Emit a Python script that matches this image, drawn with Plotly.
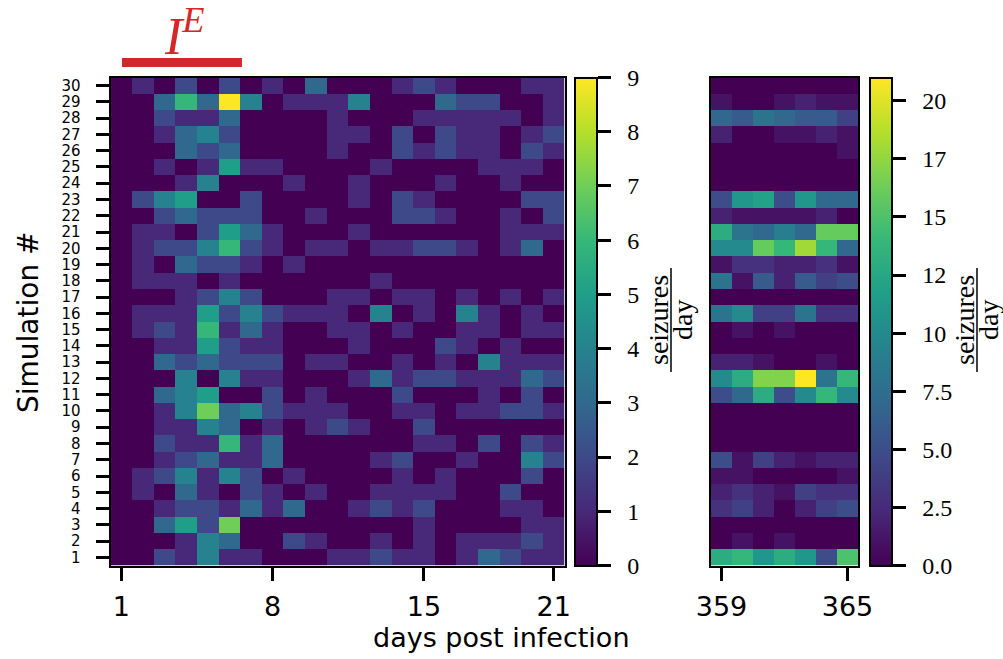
import plotly.graph_objects as go

W, H = 1003, 659

# ---------------- data ----------------
sims = list(range(1, 31))
sim_labels = [str(s) for s in sims]
days_early = list(range(1, 22))
days_late = list(range(359, 366))
early_ticks = [1, 8, 15, 21]
late_ticks = [359, 365]

# seizures/day, one list per simulation (sim 1 ... sim 30), days 1..21
early_counts = [
    [0,0,2,1,4,1,1,0,0,0,1,1,2,1,1,0,1,3,2,1,1],
    [0,0,0,1,4,3,0,0,2,1,0,0,1,0,1,0,1,1,1,2,1],
    [0,0,3,5,2,7,0,0,0,0,0,0,0,0,1,0,0,0,0,1,1],
    [0,0,1,2,2,1,3,1,3,0,0,1,2,1,2,0,0,0,1,1,0],
    [0,1,0,3,1,0,2,1,0,1,0,0,1,1,1,1,0,0,2,0,0],
    [0,1,2,4,1,4,2,0,1,0,0,0,0,1,0,1,0,0,0,2,0],
    [0,0,1,2,3,1,1,3,0,0,0,0,1,2,0,0,1,0,0,4,2],
    [0,0,2,1,1,6,1,3,0,0,0,0,0,0,1,1,0,2,0,2,1],
    [0,0,1,1,4,3,0,1,0,1,2,1,0,0,2,0,0,0,0,0,0],
    [0,0,1,4,7,3,4,2,1,1,1,0,0,1,1,0,1,1,2,2,1],
    [0,0,3,4,5,0,0,2,0,1,0,0,0,2,0,0,0,1,0,2,0],
    [0,0,0,4,0,4,1,1,0,0,0,1,3,1,2,2,1,1,1,3,2],
    [0,0,3,2,3,2,2,2,0,1,1,0,0,1,0,1,0,4,1,1,1],
    [0,0,1,1,5,2,1,1,0,0,0,1,0,0,0,2,1,0,1,0,0],
    [0,1,2,1,6,1,3,1,0,0,1,1,0,1,0,0,1,1,0,1,1],
    [0,1,1,1,5,2,4,2,1,1,1,0,4,0,1,0,4,1,0,1,0],
    [0,0,0,1,2,4,2,0,0,0,1,1,0,1,1,0,1,0,1,0,1],
    [0,1,1,1,0,1,0,0,0,0,0,0,1,0,0,0,0,0,0,0,0],
    [0,1,0,3,2,2,1,0,1,0,0,0,0,0,0,0,0,0,0,0,0],
    [0,1,2,2,4,6,2,1,0,1,1,0,1,1,2,2,1,0,1,3,0],
    [0,1,1,0,2,5,3,1,0,0,0,1,0,0,0,0,0,0,1,1,1],
    [0,0,2,3,2,2,2,0,0,1,0,0,0,2,2,1,0,0,1,0,2],
    [0,2,4,5,0,0,2,0,0,0,0,1,0,2,1,0,0,0,0,2,2],
    [0,0,0,1,4,0,0,0,1,0,0,1,0,0,0,1,0,0,1,0,0],
    [0,0,1,0,1,5,1,1,0,0,0,0,1,0,0,0,0,1,1,1,0],
    [0,0,0,3,2,3,0,0,0,0,1,0,0,2,1,2,1,1,0,2,1],
    [0,0,1,3,4,2,0,0,0,0,1,1,0,2,0,2,1,1,0,1,2],
    [0,0,2,1,1,3,0,0,0,0,1,0,0,0,1,1,1,1,1,0,1],
    [0,0,3,6,3,9,4,0,1,1,1,4,0,0,0,3,2,2,0,0,1],
    [0,1,0,2,0,2,0,1,0,3,0,0,0,1,2,1,0,0,0,1,1],
]

# seizures/day, one list per simulation, days 359..365
late_counts = [
    [13,14,11,13,11,5,15],
    [0,1,0,1,0,0,0],
    [0,0,0,0,0,0,0],
    [3,4,2,0,2,4,5],
    [2,3,2,1,4,3,3],
    [1,1,0,0,0,0,1],
    [5,1,4,2,1,2,2],
    [0,0,0,0,0,0,0],
    [0,0,0,0,0,0,0],
    [0,0,0,0,0,0,0],
    [5,7,13,5,10,14,10],
    [10,13,17,17,21,8,14],
    [2,2,1,0,0,1,0],
    [0,0,0,0,0,0,0],
    [0,1,0,1,0,0,0],
    [8,10,4,4,8,3,3],
    [0,0,0,0,0,0,0],
    [8,1,6,2,6,4,5],
    [1,3,3,2,2,3,1],
    [10,10,16,14,18,14,7],
    [13,8,7,9,7,16,16],
    [2,1,1,1,1,2,0],
    [5,11,12,5,11,7,7],
    [0,0,0,0,0,0,0],
    [0,0,0,0,0,0,0],
    [0,0,0,0,0,0,1],
    [2,0,0,1,1,2,1],
    [7,6,8,7,6,6,4],
    [1,0,0,1,2,1,1],
    [0,0,0,0,0,0,0],
]

early_cbar_ticks = [0, 1, 2, 3, 4, 5, 6, 7, 8, 9]
early_cbar_text = ["0", "1", "2", "3", "4", "5", "6", "7", "8", "9"]
late_cbar_ticks = [0, 2.5, 5, 7.5, 10, 12.5, 15, 17.5, 20]
late_cbar_text = ["0.0", "2.5", "5.0", "7.5", "10", "12", "15", "17", "20"]
early_max, late_max = 9, 21
ie_start, ie_end = 1.03, 6.58   # epileptogenic input interval (days)

# ---------------- helpers ----------------
def px_x(p):
    return p / W

def px_y(p):
    return 1 - p / H

SANS = "DejaVu Sans"
SERIF = "Liberation Serif"
GAP = "\u00a0\u00a0"

plot_top, plot_bot = 77.5, 565.5
ydom = [px_y(plot_bot), px_y(plot_top)]

fig = go.Figure()
fig.add_trace(go.Heatmap(z=early_counts, x=days_early, y=sims,
                         coloraxis="coloraxis", xaxis="x", yaxis="y",
                         hoverinfo="skip"))
fig.add_trace(go.Heatmap(z=late_counts, x=days_late, y=sims,
                         coloraxis="coloraxis2", xaxis="x2", yaxis="y2",
                         hoverinfo="skip"))

axis_common = dict(showgrid=False, zeroline=False, showline=True,
                   linewidth=2, linecolor="black", mirror=True,
                   ticks="outside", ticklen=13, tickwidth=3,
                   tickcolor="black", automargin=False)

cbar_common = dict(xanchor="left", xpad=0, thickness=22,
                   len=(plot_bot - plot_top) / H, lenmode="fraction",
                   y=px_y(plot_bot), yanchor="bottom", ypad=0,
                   outlinewidth=2, outlinecolor="black",
                   ticks="outside", ticklen=13, tickwidth=3,
                   tickcolor="black",
                   tickfont=dict(family=SERIF, size=24, color="black"))

fig.update_layout(
    width=W, height=H,
    margin=dict(l=0, r=0, t=0, b=0, autoexpand=False),
    paper_bgcolor="white", plot_bgcolor="white",
    showlegend=False,
    xaxis=dict(domain=[px_x(110.5), px_x(564.5)], range=[0.5, 21.5],
               tickvals=early_ticks, ticktext=[str(t) for t in early_ticks],
               tickfont=dict(family=SANS, size=27, color="black"),
               ticklabelstandoff=3, anchor="y", **axis_common),
    yaxis=dict(domain=ydom, range=[0.5, 30.5],
               tickvals=sims, ticktext=sim_labels,
               tickfont=dict(family=SANS, size=15, color="black"),
               ticklabelstandoff=12, anchor="x", **axis_common),
    xaxis2=dict(domain=[px_x(711), px_x(858)], range=[358.5, 365.5],
                tickvals=late_ticks, ticktext=[str(t) for t in late_ticks],
                tickfont=dict(family=SANS, size=27, color="black"),
                ticklabelstandoff=3, anchor="y2", **axis_common),
    yaxis2=dict(domain=ydom, range=[0.5, 30.5], showticklabels=False,
                anchor="x2", showgrid=False, zeroline=False, showline=True,
                linewidth=2, linecolor="black", mirror=True, ticks="",
                automargin=False),
    coloraxis=dict(colorscale="Viridis", cmin=0, cmax=early_max,
                   colorbar=dict(x=px_x(575), tickvals=early_cbar_ticks,
                                 ticktext=[GAP + t for t in early_cbar_text],
                                 **cbar_common)),
    coloraxis2=dict(colorscale="Viridis", cmin=0, cmax=late_max,
                    colorbar=dict(x=px_x(870), tickvals=late_cbar_ticks,
                                  ticktext=[GAP + t for t in late_cbar_text],
                                  **cbar_common)),
)

annotations = [
    dict(text="days post infection", x=px_x(501), y=px_y(637),
         xref="paper", yref="paper", showarrow=False,
         font=dict(family=SANS, size=27, color="black"),
         xanchor="center", yanchor="middle"),
    dict(text="Simulation #", x=px_x(28), y=px_y(322),
         xref="paper", yref="paper", showarrow=False, textangle=-90,
         font=dict(family=SANS, size=28, color="black"),
         xanchor="center", yanchor="middle"),
    dict(text="<i>I</i><sup><i>E</i></sup>", x=(ie_start + ie_end) / 2 + 0.1,
         y=px_y(33), xref="x", yref="paper", showarrow=False,
         font=dict(family=SERIF, size=52, color="#d62728"),
         xanchor="center", yanchor="middle"),
]
shapes = [
    dict(type="line", xref="x", yref="paper", x0=ie_start, x1=ie_end,
         y0=px_y(62.5), y1=px_y(62.5),
         line=dict(color="#d62728", width=9)),
]
for cx in (658, 964):
    annotations.append(dict(text="seizures", x=px_x(cx), y=px_y(320),
                            xref="paper", yref="paper", showarrow=False,
                            textangle=-90,
                            font=dict(family=SERIF, size=28, color="black"),
                            xanchor="center", yanchor="middle"))
    annotations.append(dict(text="day", x=px_x(cx + 24), y=px_y(320),
                            xref="paper", yref="paper", showarrow=False,
                            textangle=-90,
                            font=dict(family=SERIF, size=28, color="black"),
                            xanchor="center", yanchor="middle"))
    shapes.append(dict(type="line", xref="paper", yref="paper",
                       x0=px_x(cx + 13), x1=px_x(cx + 13),
                       y0=px_y(268), y1=px_y(372),
                       line=dict(color="black", width=1.5)))

fig.update_layout(annotations=annotations, shapes=shapes)
fig.write_html("out.html",
               config={"displayModeBar": False},
               post_script="document.body.style.margin='0px';"
                           "document.body.style.overflow='hidden';")
